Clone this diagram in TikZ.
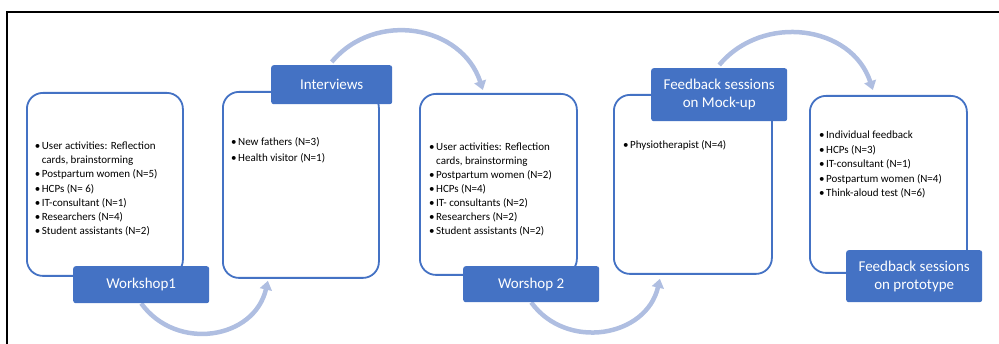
\documentclass[tikz,border=0pt]{standalone}
\usepackage{fontspec}
\setmainfont{Carlito}
\usetikzlibrary{arrows.meta}
\definecolor{obl}{HTML}{4472C4}
\definecolor{arr}{HTML}{AFBEE1}
\pgfdeclarelayer{background}
\pgfsetlayers{background,main}
\tikzset{
  panel/.style={draw=obl, line width=1.8pt, fill=white, rounded corners=16pt,
    anchor=north west, inner sep=0pt},
  tag/.style={fill=obl, rounded corners=2.5pt, anchor=north west, inner sep=0pt,
    text=white, font=\fontsize{15}{18.3}\selectfont, align=center},
  item/.style={anchor=base west, inner sep=0pt, font=\fontsize{11}{13}\selectfont},
  flow/.style={draw=arr, line width=4.5pt, -{Triangle[width=12pt,length=9pt]}},
  frameline/.style={line width=1.3pt, draw=black},
}
\newcommand\bu{\makebox[7pt][l]{\textbullet}}
\newcommand\bx{\hspace*{7pt}}
\newcommand\itemsat[5]{%
  \foreach \tx [count=\i] in {#4}{%
    \node[item] (#3-\i) at (#1,{#2-(\i-1)*#5}) {\tx};}}
\begin{document}
\begin{tikzpicture}[x=1pt,y=1pt]
\useasboundingbox (0,0) rectangle (999,-344);
\draw[frameline] (7,-344) -- (7,-12) -- (999,-12);

% panels
\node[panel, minimum width=156pt, minimum height=183pt] (b1) at (26,-92) {};
\node[panel, minimum width=156pt, minimum height=186pt] (b2) at (222,-91) {};
\node[panel, minimum width=157pt, minimum height=181pt] (b3) at (419,-93) {};
\node[panel, minimum width=158pt, minimum height=179pt] (b4) at (613,-94) {};
\node[panel, minimum width=157pt, minimum height=177pt] (b5) at (809,-95) {};

% labels
\node[tag, minimum width=136pt, minimum height=37pt] (w1) at (73,-266) {Workshop1};
\node[tag, minimum width=121pt, minimum height=39pt] (int) at (271,-65) {Interviews};
\node[tag, minimum width=136pt, minimum height=36pt] (w2) at (463,-266) {Worshop 2};
\node[tag, minimum width=136pt, minimum height=53pt] (fm) at (651,-68) {Feedback sessions\\on Mock-up};
\node[tag, minimum width=136pt, minimum height=52pt] (fp) at (846,-250) {Feedback sessions\\on prototype};

% items
\itemsat{34.7}{-149.5}{t1}{{\bu User activities: Reflection},{\bx cards, brainstorming},{\bu Postpartum women (N=5)},{\bu HCPs (N= 6)},{\bu IT-consultant (N=1)},{\bu Researchers (N=4)},{\bu Student assistants (N=2)}}{14.2}
\itemsat{231}{-145.2}{t2}{{\bu New fathers (N=3)},{\bu Health visitor (N=1)}}{16.6}
\itemsat{429}{-150.2}{t3}{{\bu User activities: Reflection},{\bx cards, brainstorming},{\bu Postpartum women (N=2)},{\bu HCPs (N=4)},{\bu IT- consultants (N=2)},{\bu Researchers (N=2)},{\bu Student assistants (N=2)}}{14.1}
\itemsat{623}{-148.5}{t4}{{\bu Physiotherapist (N=4)}}{14}
\itemsat{819}{-138.5}{t5}{{\bu Individual feedback},{\bu HCPs (N=3)},{\bu IT-consultant (N=1)},{\bu Postpartum women (N=4)},{\bu Think-aloud test (N=6)}}{14.6}

% connectors (behind the labels)
\begin{pgfonlayer}{background}
\draw[flow] (w1.south) .. controls +(-54:60) and +(-103:60) .. ([xshift=-33pt,yshift=-2pt]b2.south);
\draw[flow] (w2.south) .. controls +(-54:60) and +(-103:60) .. ([xshift=-33pt,yshift=-4pt]b4.south);
\draw[flow] ([yshift=3pt]int.north) .. controls +(50:68) and +(108:68) .. ([xshift=-15.5pt,yshift=3pt]b3.north);
\draw[flow] ([yshift=3pt]fm.north) .. controls +(50:68) and +(108:68) .. ([xshift=-15.5pt,yshift=5pt]b5.north);
\end{pgfonlayer}
\end{tikzpicture}
\end{document}
